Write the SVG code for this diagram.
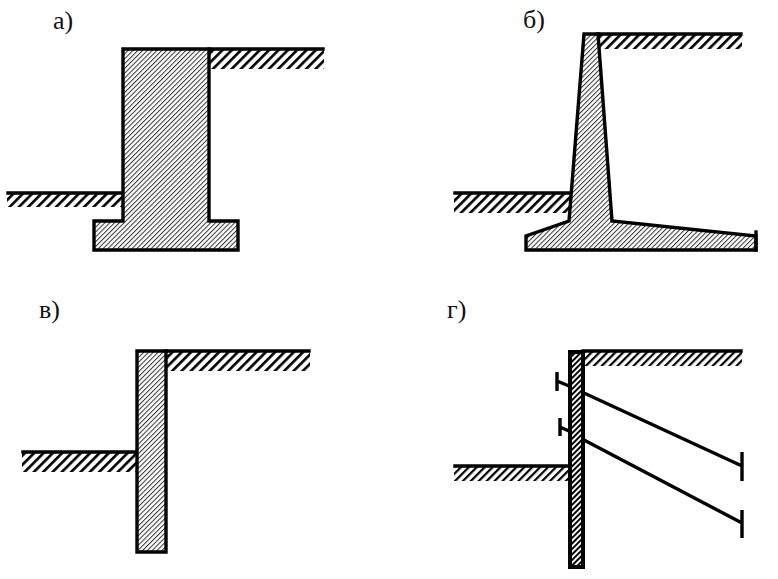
<svg xmlns="http://www.w3.org/2000/svg" width="778" height="579" viewBox="0 0 778 579">
<style>
.lbl{font-family:"Liberation Serif","Times New Roman",serif;font-size:26px;fill:#111}
.ln{fill:none;stroke:#000;stroke-width:3.4;stroke-linecap:square;stroke-linejoin:miter}
.tie{fill:none;stroke:#000;stroke-width:3.4}
.wall{fill:url(#fine);stroke:#000;stroke-width:3.4;stroke-linejoin:miter}
.soil{fill:url(#coarse);stroke:none}
</style>
<defs>
<pattern id="fine" width="3.4" height="3.4" patternUnits="userSpaceOnUse" patternTransform="rotate(-45)"><rect width="3.4" height="3.4" fill="#fff"/><rect width="3.4" height="1" fill="#333"/></pattern>
<pattern id="coarse" width="6.6" height="6.6" patternUnits="userSpaceOnUse" patternTransform="rotate(-45)"><rect width="6.6" height="6.6" fill="#fff"/><rect width="6.6" height="2.6" fill="#000"/></pattern>
<pattern id="coarse2" width="5.6" height="5.6" patternUnits="userSpaceOnUse" patternTransform="rotate(-45)"><rect width="5.6" height="5.6" fill="#fff"/><rect width="5.6" height="2.2" fill="#000"/></pattern>
<pattern id="dense" width="3.9" height="3.9" patternUnits="userSpaceOnUse" patternTransform="rotate(-45)"><rect width="3.9" height="3.9" fill="#fff"/><rect width="3.9" height="2" fill="#000"/></pattern>
</defs>
<g id="fig-a">
<text class="lbl" x="53" y="29">а)</text>
<rect class="soil" x="209" y="49" width="115" height="20"/>
<rect class="soil" x="7" y="193" width="115" height="14"/>
<path class="ln" d="M209 49H323M8 193H122"/>
<path class="wall" d="M123 49H209V221H238V250H94V221H123Z"/>
</g>
<g id="fig-b">
<text class="lbl" x="523" y="28">б)</text>
<rect class="soil" x="597" y="34" width="145" height="15"/>
<rect class="soil" x="454" y="193" width="116" height="20"/>
<path class="ln" d="M598 34H741M455 193H569"/>
<path class="wall" d="M584 34H598L612 221L756 236V250H526V236L569 221Z"/>
<path class="ln" d="M756 232V250"/>
</g>
<g id="fig-c">
<text class="lbl" x="39" y="318">в)</text>
<rect class="soil" x="166" y="351" width="144" height="20"/>
<rect class="soil" x="22" y="452" width="115" height="20"/>
<path class="ln" d="M166 351H309M23 452H137"/>
<path class="wall" d="M137 351H166V552H137Z"/>
</g>
<g id="fig-d">
<text class="lbl" x="447" y="318">г)</text>
<rect x="583" y="351" width="159" height="15" fill="url(#coarse2)"/>
<rect x="454" y="466" width="115" height="15" fill="url(#coarse2)"/>
<path class="ln" d="M583 351H741M455 466H569"/>
<rect x="570" y="352" width="13" height="215" fill="url(#dense)" stroke="#000" stroke-width="4"/>
</g>
<g id="connectors">
<path class="tie" d="M584 393L742 466M742 452V481M584 440L742 523M742 510V538M569 386L557 381M557 372V391M569 431L560 427M560 418V436"/>
</g>
</svg>
